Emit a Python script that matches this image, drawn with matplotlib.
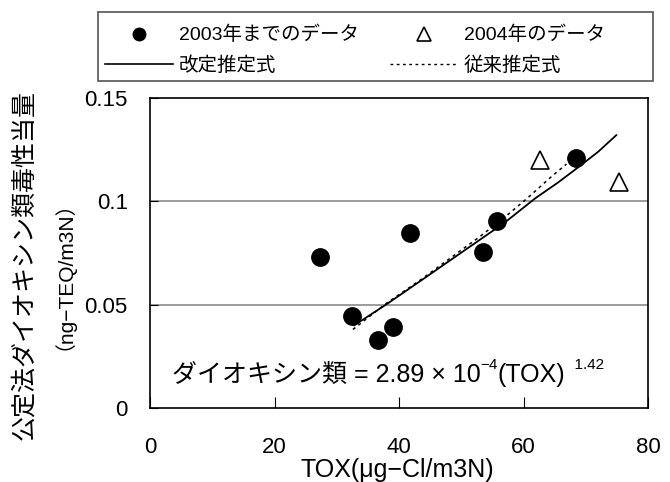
import matplotlib
matplotlib.use('Agg')
import matplotlib.pyplot as plt
from matplotlib.lines import Line2D
from matplotlib.patches import Rectangle

plt.rcParams['font.family'] = ['Liberation Sans', 'Noto Sans CJK JP', 'DejaVu Sans']

# 2003年までのデータ
old_x = [27.3, 32.5, 36.6, 39.1, 41.7, 53.5, 55.8, 68.5]
old_y = [0.073, 0.0445, 0.033, 0.039, 0.0845, 0.0757, 0.0906, 0.1208]
# 2004年のデータ
new_x = [62.6, 75.3]
new_y = [0.120, 0.1095]
# 改定推定式
fit_x = [32.8, 37.9, 43.7, 48.0, 52.8, 57.1, 61.9, 65.5, 68.8, 72.0, 74.9]
fit_y = [0.040, 0.050, 0.062, 0.071, 0.081, 0.090, 0.1015, 0.109, 0.1165, 0.124, 0.132]
# 従来推定式
prev_x = [32.6, 37.9, 43.7, 48.0, 52.8, 57.1, 60.8, 64.5, 66.9]
prev_y = [0.038, 0.0505, 0.0625, 0.072, 0.0825, 0.0926, 0.102, 0.112, 0.118]

xticks = [0, 20, 40, 60, 80]
yticks = [0, 0.05, 0.1, 0.15]
ytick_labels = ['0', '0.05', '0.1', '0.15']

W, H = 670, 482
fig = plt.figure(figsize=(W / 100, H / 100), dpi=100)
ax = fig.add_axes([150 / W, 1 - 408 / H, 498 / W, 310 / H])

for yv in [0.05, 0.1]:
    ax.axhline(yv, color='#808080', lw=1.1, zorder=0)

ax.plot(fit_x, fit_y, color='black', lw=1.3)
ax.plot(prev_x, prev_y, color='black', lw=1.1, linestyle=(0, (2, 2.5)))
ax.plot(old_x, old_y, 'o', color='black', ms=12.5, ls='none')
ax.plot(new_x, new_y, '^', mfc='white', mec='black', ms=13, mew=1.2, ls='none')

ax.set_xlim(0, 80)
ax.set_ylim(0, 0.15)
ax.set_xticks(xticks)
ax.set_yticks(yticks)
ax.set_yticklabels(ytick_labels)
ax.tick_params(axis='x', direction='in', length=8, pad=21, labelsize=16)
ax.tick_params(axis='y', direction='in', length=6, pad=16, labelsize=16)
for s in ax.spines.values():
    s.set_linewidth(1.2)

# 式
t1 = ax.text(3.5, 0.016, 'ダイオキシン類 = 2.89 × 10', va='center', ha='left', fontsize=18)
t2 = ax.annotate('−4', xy=(1, 0.62), xycoords=t1, va='bottom', ha='left', fontsize=11)
t3 = ax.annotate('(TOX)', xy=(1, 0), xycoords=(t2, t1), va='bottom', ha='left', fontsize=18)
ax.annotate('  1.42', xy=(1, 0.62), xycoords=t3, va='bottom', ha='left', fontsize=11)

# 凡例
h1 = [Line2D([], [], marker='o', color='black', ls='none', ms=9),
      Line2D([], [], color='black', lw=1.2)]
h2 = [Line2D([], [], marker='^', mfc='white', mec='black', ls='none', ms=10, mew=1.2),
      Line2D([], [], color='black', lw=1.0, linestyle=(0, (2, 2.5)))]
opts = dict(loc='upper left', frameon=False, fontsize=14, handlelength=3.5,
            handletextpad=0.3, labelspacing=0.6, borderpad=0, borderaxespad=0)
fig.legend(h1, ['2003年までのデータ', '改定推定式'], bbox_to_anchor=(105 / W, 1 - 26 / H), **opts)
fig.legend(h2, ['2004年のデータ', '従来推定式'], bbox_to_anchor=(390 / W, 1 - 26 / H), **opts)
fig.patches.append(Rectangle((98 / W, 1 - 81 / H), 555 / W, 69 / H, transform=fig.transFigure,
                             fill=False, edgecolor='#555555', lw=1.2))

fig.text(24 / W, 1 - 265 / H, '公定法ダイオキシン類毒性当量', rotation=90, ha='center', va='center', fontsize=18)
fig.text(53 / W, 1 - 265 / H, '（ng−TEQ/m3N）', rotation=90, ha='center', va='center', fontsize=15)
fig.text(397 / W, 1 - 470 / H, 'TOX(μg−Cl/m3N)', ha='center', va='center', fontsize=18)

fig.savefig('out.png', dpi=100)
